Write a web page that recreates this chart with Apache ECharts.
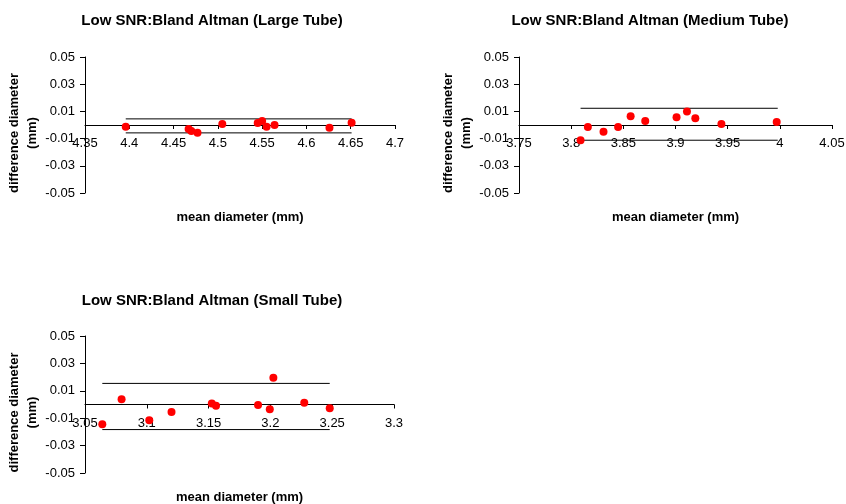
<!DOCTYPE html>
<html><head><meta charset="utf-8">
<script src="https://cdn.jsdelivr.net/npm/echarts@6/dist/echarts.min.js"></script>
<style>html,body{margin:0;padding:0;background:#fff}#c{width:846px;height:504px}</style>
</head><body><div id="c"></div>
<script>
const titles = ['Low SNR:Bland Altman (Large Tube)','Low SNR:Bland Altman (Medium Tube)','Low SNR:Bland Altman (Small Tube)'];
const largeMean = [4.396, 4.467, 4.470, 4.477, 4.505, 4.545, 4.550, 4.555, 4.564, 4.626, 4.651];
const largeDiff = [-0.0012, -0.003, -0.0044, -0.0057, 0.0007, 0.0015, 0.003, -0.0012, 0.0, -0.002, 0.0017];
const largeLimits = [0.0045, -0.0058];
const largeSpan = [4.396, 4.651];
const mediumMean = [3.809, 3.816, 3.831, 3.845, 3.857, 3.871, 3.901, 3.911, 3.919, 3.944, 3.997];
const mediumDiff = [-0.0113, -0.0015, -0.005, -0.0015, 0.0064, 0.003, 0.0057, 0.0099, 0.0049, 0.0007, 0.0022];
const mediumLimits = [0.0123, -0.0112];
const mediumSpan = [3.809, 3.998];
const smallMean = [3.064, 3.0796, 3.102, 3.120, 3.1526, 3.156, 3.190, 3.1995, 3.2024, 3.2274, 3.248];
const smallDiff = [-0.0144, 0.0039, -0.0115, -0.0054, 0.0007, -0.001, -0.0003, -0.0034, 0.0195, 0.0012, -0.0027];
const smallLimits = [0.0154, -0.0183];
const smallSpan = [3.064, 3.248];
const xRanges = [[4.35, 4.7], [3.75, 4.05], [3.05, 3.3]];
const yRange = [-0.05, 0.05];
const xName = 'mean diameter (mm)';
const yName = 'difference diameter\n(mm)';

const panels = [
  {mean: largeMean, diff: largeDiff, lim: largeLimits, span: largeSpan},
  {mean: mediumMean, diff: mediumDiff, lim: mediumLimits, span: mediumSpan},
  {mean: smallMean, diff: smallDiff, lim: smallLimits, span: smallSpan}
];
const grids = [
  {left: 85, top: 57, width: 310, height: 136},
  {left: 519, top: 57, width: 313, height: 136},
  {left: 85, top: 336, width: 309, height: 137}
].map(g => Object.assign(g, {containLabel: false, outerBoundsMode: 'none'}));
const titlePos = [[207, 8], [645, 8], [207, 288]];
const font = 'Liberation Sans, Arial, sans-serif';
const axisCol = '#000';

const option = {
  animation: false,
  backgroundColor: '#fff',
  title: titles.map((t, i) => ({
    text: t, left: titlePos[i][0], top: titlePos[i][1], textAlign: 'center',
    textStyle: {fontFamily: font, fontSize: 15, fontWeight: 'bold', color: '#000'}
  })),
  grid: grids,
  xAxis: xRanges.map((r, i) => ({
    type: 'value', gridIndex: i, min: r[0], max: r[1], interval: 0.05,
    position: 'bottom', offset: -grids[i].height / 2,
    axisLine: {onZero: false, lineStyle: {color: axisCol, width: 1}},
    axisTick: {show: true, length: 4, lineStyle: {color: axisCol}},
    axisLabel: {color: '#000', fontFamily: font, fontSize: 13, margin: 12},
    splitLine: {show: false},
    name: xName, nameLocation: 'middle', nameGap: 86,
    nameTextStyle: {fontFamily: font, fontSize: 13, fontWeight: 'bold', color: '#000'}
  })),
  yAxis: xRanges.map((r, i) => ({
    type: 'value', gridIndex: i, min: yRange[0], max: yRange[1], interval: 0.02,
    axisLine: {show: true, onZero: false, lineStyle: {color: axisCol, width: 1}},
    axisTick: {show: true, length: 5, lineStyle: {color: axisCol}},
    axisLabel: {color: '#000', fontFamily: font, fontSize: 13, margin: 10},
    splitLine: {show: false},
    name: yName, nameLocation: 'middle', nameGap: 42, nameRotate: 90,
    nameTextStyle: {fontFamily: font, fontSize: 13, fontWeight: 'bold', color: '#000', lineHeight: 18, padding: [0, 16, 0, 0]}
  })),
  series: []
};
panels.forEach((p, i) => {
  p.lim.forEach(v => {
    option.series.push({
      type: 'line', xAxisIndex: i, yAxisIndex: i, symbol: 'none', silent: true,
      lineStyle: {color: '#000', width: 1},
      data: p.span.map(x => [x, v])
    });
  });
  option.series.push({
    type: 'scatter', xAxisIndex: i, yAxisIndex: i, symbol: 'circle', symbolSize: 8,
    itemStyle: {color: '#ff0000', opacity: 1},
    data: p.mean.map((m, k) => [m, p.diff[k]]), z: 5
  });
});
const chart = echarts.init(document.getElementById('c'), null, {renderer: 'canvas'});
chart.setOption(option);
</script></body></html>
